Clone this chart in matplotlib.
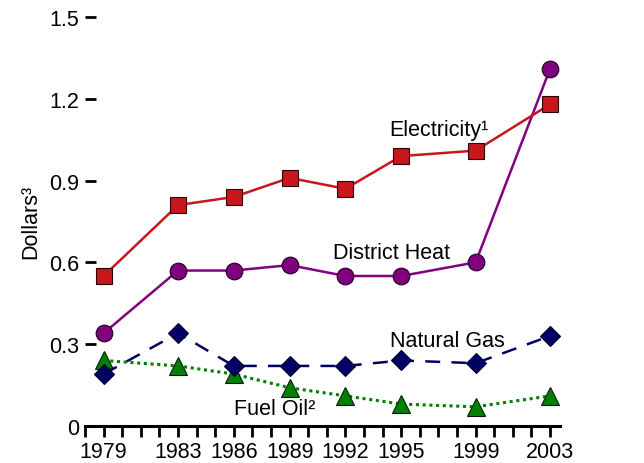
import matplotlib
matplotlib.use("Agg")
import matplotlib.pyplot as plt
from matplotlib.ticker import MultipleLocator

plt.rcParams["font.family"] = ["Liberation Sans", "DejaVu Sans"]

years = [1979, 1983, 1986, 1989, 1992, 1995, 1999, 2003]
electricity = [0.55, 0.81, 0.84, 0.91, 0.87, 0.99, 1.01, 1.18]
district_heat = [0.34, 0.57, 0.57, 0.59, 0.55, 0.55, 0.60, 1.31]
natural_gas = [0.19, 0.34, 0.22, 0.22, 0.22, 0.24, 0.23, 0.33]
fuel_oil = [0.24, 0.22, 0.19, 0.14, 0.11, 0.08, 0.07, 0.11]
y_ticks = [0, 0.3, 0.6, 0.9, 1.2, 1.5]
y_labels = ["0", "0.3", "0.6", "0.9", "1.2", "1.5"]

fig = plt.figure(figsize=(6.44, 4.64), dpi=100)
ax = fig.add_axes([0.132, 0.08, 0.738, 0.881])

ax.plot(years, fuel_oil, color="#008000", lw=2.2, ls=(0, (1, 1.2)),
        marker="^", ms=12.5, mfc="#008000", mec="#0a1a0a", mew=0.8, zorder=2)
ax.plot(years, natural_gas, color="#000066", lw=1.8, ls=(0, (6, 4.5)),
        marker="D", ms=10, mfc="#000066", mec="#000022", mew=0.8, zorder=3)
ax.plot(years, district_heat, color="#800080", lw=1.8,
        marker="o", ms=12, mfc="#800080", mec="#200020", mew=0.8, zorder=4)
ax.plot(years, electricity, color="#c8161d", lw=1.8,
        marker="s", ms=11.5, mfc="#c8161d", mec="#300000", mew=0.8, zorder=5)

fs = 15.5
ax.text(1997.0, 1.089, "Electricity\u00b9", fontsize=fs, ha="center", va="center")
ax.text(1994.5, 0.638, "District Heat", fontsize=fs, ha="center", va="center")
ax.text(1997.5, 0.312, "Natural Gas", fontsize=fs, ha="center", va="center")
ax.text(1988.2, 0.062, "Fuel Oil\u00b2", fontsize=fs, ha="center", va="center")

ax.set_xlim(1978.0, 2003.55)
ax.set_ylim(0, 1.5)
for s in ["top", "right", "left"]:
    ax.spines[s].set_visible(False)
ax.spines["bottom"].set_linewidth(2.2)
ax.spines["bottom"].set_zorder(1)

ax.set_xticks(years)
ax.set_xticklabels([str(y) for y in years], fontsize=fs)
ax.xaxis.set_minor_locator(MultipleLocator(1))
ax.tick_params(axis="x", which="both", direction="out", length=8, width=2, pad=3)
ax.set_yticks(y_ticks)
ax.set_yticklabels(y_labels, fontsize=fs)
ax.tick_params(axis="y", direction="in", length=8, width=2, pad=4)

ax.set_ylabel("Dollars\u00b3", fontsize=fs, labelpad=6)
for line in ax.lines:
    line.set_clip_on(False)

fig.savefig("out.png", dpi=100)
